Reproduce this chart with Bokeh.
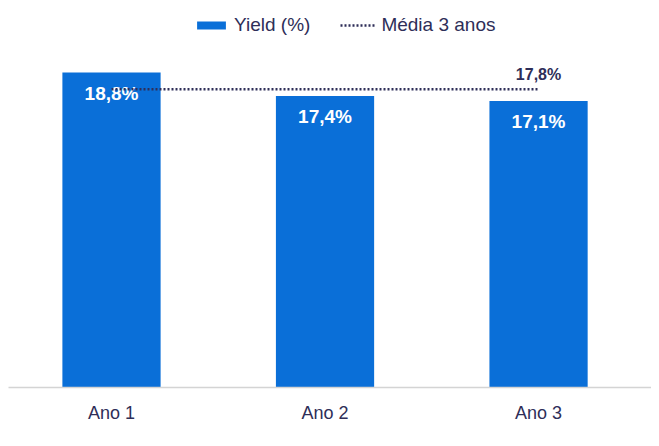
from bokeh.plotting import figure
from bokeh.models import Range1d, FixedTicker, ColumnDataSource, Legend, LegendItem
from bokeh.embed import file_html
from bokeh.resources import INLINE
from bokeh.core.properties import value

categories = ["Ano 1", "Ano 2", "Ano 3"]
yields = [18.8, 17.4, 17.1]
media_3_anos = 17.8
series_names = ["Yield (%)", "Média 3 anos"]

idx = list(range(len(categories)))
labels = [f"{v:.1f}".replace(".", ",") + "%" for v in yields]
media_label = f"{media_3_anos:.1f}".replace(".", ",") + "%"

BLUE = "#0a6fd8"
NAVY = "#2e2e58"
FONT = "Liberation Sans"

p = figure(width=651, height=438, output_backend="svg", toolbar_location=None,
           x_range=Range1d(-0.4824, 2.529), y_range=Range1d(0, 22.32),
           y_axis_location=None, min_border_left=8, min_border_right=0,
           min_border_top=13, min_border_bottom=51)
p.outline_line_color = None
p.xgrid.visible = False
p.ygrid.visible = False

src = ColumnDataSource(dict(x=idx, y=yields, lab=labels))
bars = p.vbar(x="x", top="y", width=0.46, bottom=0, source=src,
              fill_color=BLUE, line_color=None)

p.text(x="x", y="y", text="lab", source=src, text_align="center",
       text_baseline="middle", y_offset=21, text_color="white",
       text_font=value(FONT), text_font_style="bold", text_font_size="19px")

line = p.line(x=[idx[0], idx[-1]], y=[media_3_anos, media_3_anos],
              line_color=NAVY, line_width=2.5, line_dash="2 2")
p.text(x=[idx[-1]], y=[media_3_anos], text=[media_label], text_align="center",
       text_baseline="middle", y_offset=-15, text_color=NAVY,
       text_font=value(FONT), text_font_style="bold", text_font_size="16px")

ax = p.xaxis[0]
ax.ticker = FixedTicker(ticks=idx)
ax.major_label_overrides = {i: c for i, c in zip(idx, categories)}
ax.major_tick_line_color = None
ax.minor_tick_line_color = None
ax.axis_line_color = "#d4d4d4"
ax.axis_line_width = 1.5
ax.major_label_standoff = 9
ax.major_label_text_font = FONT
ax.major_label_text_font_size = "18px"
ax.major_label_text_color = NAVY

legend = Legend(items=[LegendItem(label=series_names[0], renderers=[bars]),
                       LegendItem(label=series_names[1], renderers=[line])],
                orientation="horizontal", location=(185, 351),
                glyph_width=36, glyph_height=10, label_standoff=5, spacing=30,
                padding=0, margin=0, border_line_color=None,
                background_fill_alpha=0, label_text_font=FONT,
                label_text_font_size="19px", label_text_color=NAVY)
p.add_layout(legend)

open("out.html", "w").write(file_html(p, INLINE))
